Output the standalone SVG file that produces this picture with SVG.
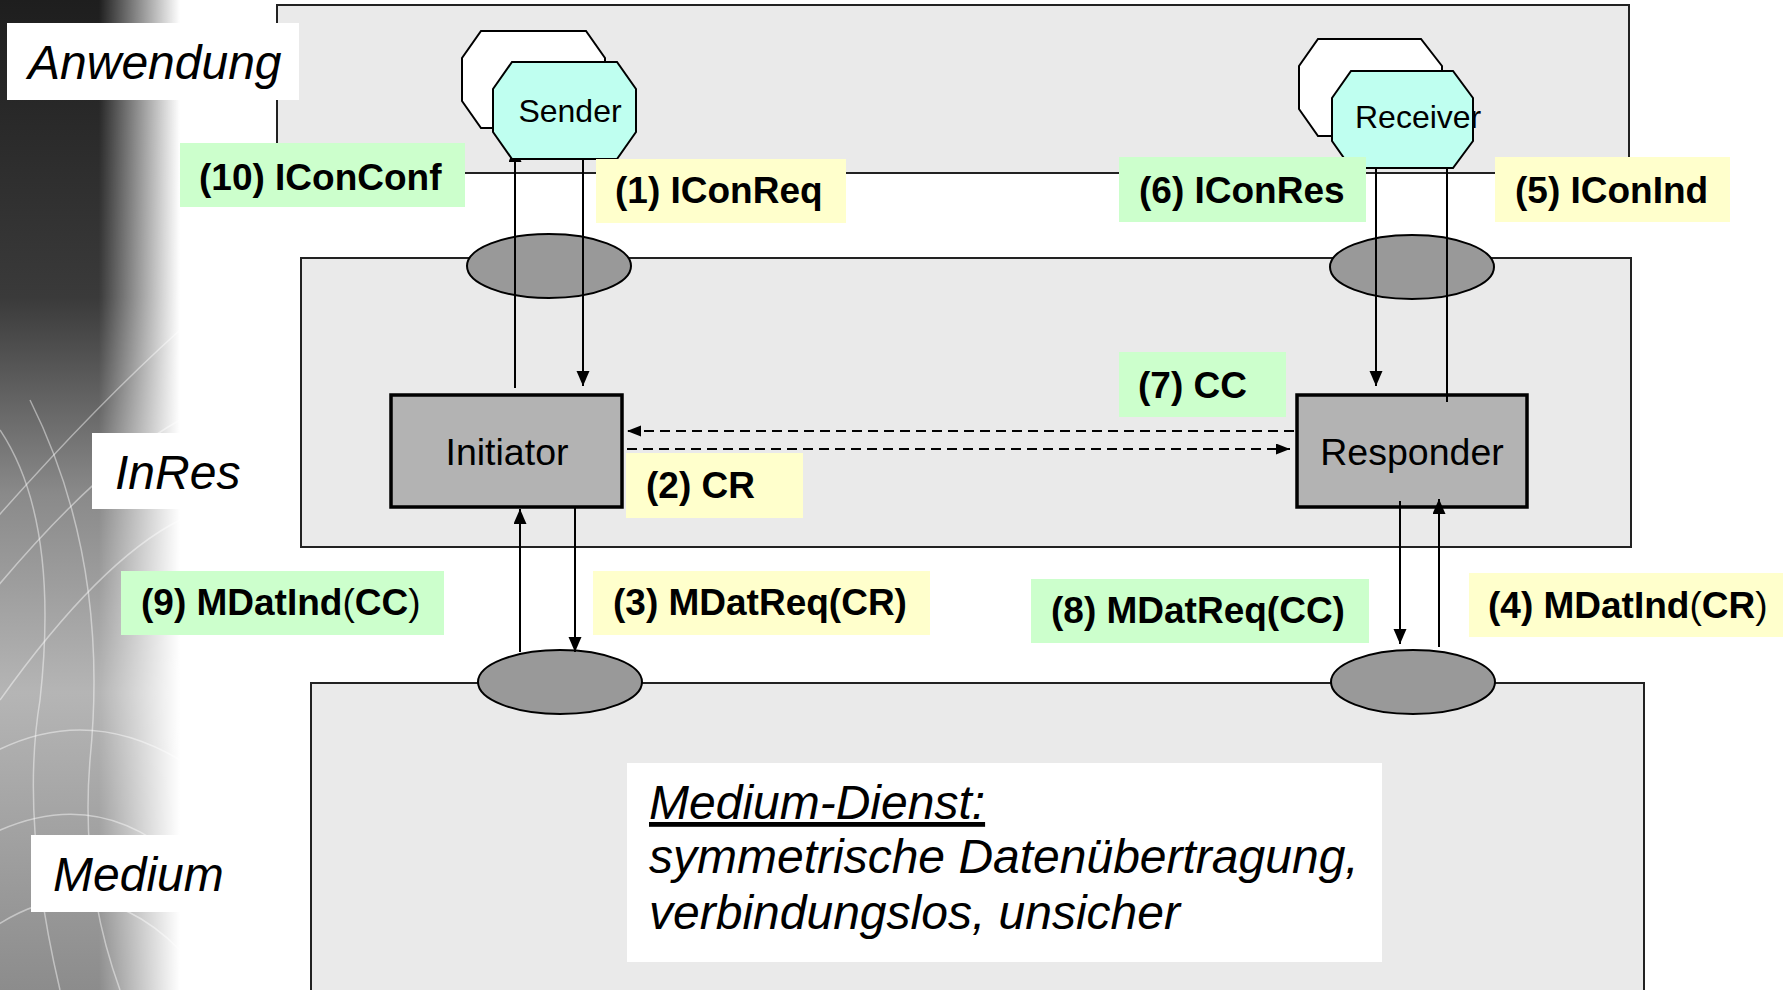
<svg xmlns="http://www.w3.org/2000/svg" width="1783" height="990" viewBox="0 0 1783 990">
<style>
.layer{fill:#eaeaea;stroke:#222;stroke-width:2}
.ell{fill:#999;stroke:#000;stroke-width:2}
.oct{fill:#bffff0;stroke:#000;stroke-width:2}
.octb{fill:#fff;stroke:#000;stroke-width:2}
.box{fill:#b3b3b3;stroke:#000;stroke-width:3.5}
.g{fill:#ccffcc}
.y{fill:#ffffcc}
.wl{fill:#fff}
.lbl{font-family:"Liberation Sans",Arial,sans-serif;font-weight:bold;font-size:37px;fill:#000}
.nrm{font-weight:normal}
.it{font-family:"Liberation Sans",Arial,sans-serif;font-style:italic;font-size:48px;fill:#000}
.nt{font-family:"Liberation Sans",Arial,sans-serif;font-size:37.5px;fill:#000}
.ot{font-family:"Liberation Sans",Arial,sans-serif;font-size:32px;fill:#000}
.ln{stroke:#000;stroke-width:2;fill:none}
.dl{stroke:#000;stroke-width:2.2;fill:none;stroke-dasharray:10 6}
</style>
<defs>
<marker id="ar" markerUnits="userSpaceOnUse" markerWidth="16" markerHeight="14" refX="15" refY="6.5" orient="auto"><path d="M0,0 L15,6.5 L0,13 z" fill="#000"/></marker>
<marker id="ard" markerUnits="userSpaceOnUse" markerWidth="15" markerHeight="12" refX="14" refY="5.5" orient="auto"><path d="M0,0 L14,5.5 L0,11 z" fill="#000"/></marker>
<linearGradient id="vg" x1="0" y1="0" x2="0" y2="1">
<stop offset="0" stop-color="#1e1e1e"/>
<stop offset="0.3" stop-color="#3a3a3a"/>
<stop offset="0.5" stop-color="#8a8a8a"/>
<stop offset="0.7" stop-color="#b5b5b5"/>
<stop offset="1" stop-color="#8c8c8c"/>
</linearGradient>
<linearGradient id="hg" x1="0" y1="0" x2="1" y2="0">
<stop offset="0" stop-color="#fff"/>
<stop offset="0.55" stop-color="#fff"/>
<stop offset="1" stop-color="#000"/>
</linearGradient>
<mask id="fade" maskUnits="userSpaceOnUse" x="0" y="0" width="180" height="990"><rect x="0" y="0" width="180" height="990" fill="url(#hg)"/></mask>
</defs>
<rect x="0" y="0" width="1783" height="990" fill="#fff"/>
<g id="backdrop" mask="url(#fade)">
<rect x="0" y="0" width="180" height="990" fill="url(#vg)"/>
<g fill="none" stroke="#fff" stroke-opacity="0.45" stroke-width="1.5">
<path d="M-40,560 Q80,420 180,330"/>
<path d="M-30,620 Q90,470 180,420"/>
<path d="M0,700 Q100,560 180,520"/>
<path d="M0,430 Q60,520 40,700 Q20,820 60,990"/>
<path d="M30,400 Q110,560 90,760 Q80,880 120,990"/>
<path d="M-20,760 Q80,700 180,760"/>
<path d="M-20,840 Q90,780 180,860"/>
<path d="M-10,930 Q90,860 180,950"/>
</g>
</g>
<g id="layer-anwendung"><rect class="layer" x="277" y="5" width="1352" height="168"/></g>
<g id="layer-inres"><rect class="layer" x="301" y="258" width="1330" height="289"/></g>
<g id="layer-medium"><rect class="layer" x="311" y="683" width="1333" height="330"/></g>
<g id="sap-top-left"><ellipse class="ell" cx="549" cy="266" rx="82" ry="32"/></g>
<g id="sap-top-right"><ellipse class="ell" cx="1412" cy="267" rx="82" ry="32"/></g>
<g id="sap-bottom-left"><ellipse class="ell" cx="560" cy="682" rx="82" ry="32"/></g>
<g id="sap-bottom-right"><ellipse class="ell" cx="1413" cy="682" rx="82" ry="32"/></g>
<g id="initiator"><rect class="box" x="391" y="395" width="231" height="112"/><text class="nt" x="507" y="465" text-anchor="middle">Initiator</text></g>
<g id="responder"><rect class="box" x="1297" y="395" width="230" height="112"/><text class="nt" x="1412" y="465" text-anchor="middle">Responder</text></g>
<g id="connectors">
<line class="ln" x1="515" y1="388" x2="515" y2="147" marker-end="url(#ar)"/>
<line class="ln" x1="583" y1="159" x2="583" y2="386" marker-end="url(#ar)"/>
<line class="ln" x1="520" y1="652" x2="520" y2="509" marker-end="url(#ar)"/>
<line class="ln" x1="575" y1="508" x2="575" y2="652" marker-end="url(#ar)"/>
<line class="ln" x1="1376" y1="168" x2="1376" y2="386" marker-end="url(#ar)"/>
<line class="ln" x1="1447" y1="168" x2="1447" y2="402"/>
<line class="ln" x1="1400" y1="501" x2="1400" y2="644" marker-end="url(#ar)"/>
<line class="ln" x1="1439" y1="647" x2="1439" y2="499" marker-end="url(#ar)"/>
<line class="dl" x1="1294" y1="431" x2="627" y2="431" marker-end="url(#ard)"/>
<line class="dl" x1="627" y1="449" x2="1290" y2="449" marker-end="url(#ard)"/>
</g>
<g id="sender">
<polygon class="octb" points="481,31 586,31 605,58 605,101 586,128 481,128 462,101 462,58"/>
<polygon class="oct" points="512,62 617,62 636,89 636,132 617,159 512,159 493,132 493,89"/>
<text class="ot" x="570" y="122" text-anchor="middle">Sender</text>
</g>
<g id="receiver">
<polygon class="octb" points="1318,39 1421,39 1442,66 1442,109 1421,136 1318,136 1299,109 1299,66"/>
<polygon class="oct" points="1351,71 1453,71 1473,98 1473,141 1453,168 1351,168 1332,141 1332,98"/>
<text class="ot" x="1355" y="128">Receiver</text>
</g>
<g id="label-10"><rect class="g" x="180" y="143" width="285" height="64"/><text class="lbl" x="199" y="190">(10) IConConf</text></g>
<g id="label-1"><rect class="y" x="596" y="159" width="250" height="64"/><text class="lbl" x="615" y="203">(1) IConReq</text></g>
<g id="label-6"><rect class="g" x="1119" y="157" width="247" height="65"/><text class="lbl" x="1139" y="203">(6) IConRes</text></g>
<g id="label-5"><rect class="y" x="1495" y="157" width="235" height="65"/><text class="lbl" x="1515" y="203">(5) IConInd</text></g>
<g id="label-7"><rect class="g" x="1119" y="352" width="167" height="65"/><text class="lbl" x="1138" y="398">(7) CC</text></g>
<g id="label-2"><rect class="y" x="626" y="453" width="177" height="65"/><text class="lbl" x="646" y="498">(2) CR</text></g>
<g id="label-9"><rect class="g" x="121" y="571" width="323" height="64"/><text class="lbl" x="141" y="615">(9) MDatInd<tspan class="nrm">(</tspan>CC<tspan class="nrm">)</tspan></text></g>
<g id="label-3"><rect class="y" x="593" y="571" width="337" height="64"/><text class="lbl" x="613" y="615">(3) MDatReq(CR)</text></g>
<g id="label-8"><rect class="g" x="1031" y="579" width="338" height="64"/><text class="lbl" x="1051" y="623">(8) MDatReq(CC)</text></g>
<g id="label-4"><rect class="y" x="1469" y="573" width="314" height="64"/><text class="lbl" x="1488" y="618">(4) MDatInd<tspan class="nrm">(</tspan>CR<tspan class="nrm">)</tspan></text></g>
<g id="name-anwendung"><rect class="wl" x="7" y="23" width="292" height="77"/><text class="it" x="28" y="79">Anwendung</text></g>
<g id="name-inres"><rect class="wl" x="92" y="433" width="170" height="76"/><text class="it" x="115" y="489">InRes</text></g>
<g id="name-medium"><rect class="wl" x="31" y="835" width="220" height="77"/><text class="it" x="53" y="891">Medium</text></g>
<g id="medium-dienst">
<rect class="wl" x="627" y="763" width="755" height="199"/>
<text class="it" x="649" y="819" text-decoration="underline">Medium-Dienst:</text>
<text class="it" x="649" y="873">symmetrische Datenübertragung,</text>
<text class="it" x="649" y="929">verbindungslos, unsicher</text>
</g>
</svg>
